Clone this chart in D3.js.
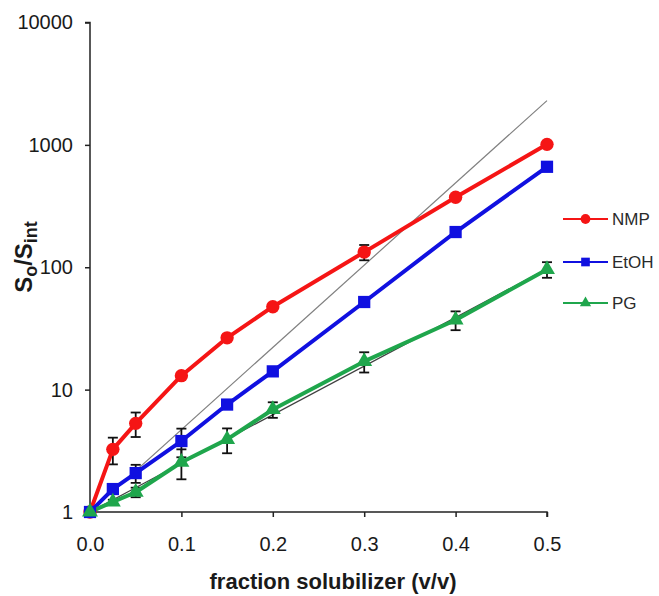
<!DOCTYPE html>
<html>
<head>
<meta charset="utf-8">
<script src="https://cdn.jsdelivr.net/npm/d3@7"></script>
<style>
  body { margin: 0; background: #fff; }
  svg { display: block; }
  text { font-family: "Liberation Sans", Arial, sans-serif; }
</style>
</head>
<body>
<svg id="chart" width="659" height="596"></svg>
<script>
// ---- data ----
const fractions = [0, 0.025, 0.05, 0.1, 0.15, 0.2, 0.3, 0.4, 0.5];
const nmpValues = [1, 3.25, 5.3, 13.0, 26.5, 47.6, 133, 373, 1010];
const nmpErrors = [0, 0.8, 1.2, 0.5, 1.0, 2.0, 19, 12, 30];
const etohValues = [1, 1.54, 2.08, 3.8, 7.55, 14.1, 52, 194, 662];
const etohErrors = [0, 0.1, 0.35, 1.0, 0.4, 0.6, 2.0, 8, 20];
const pgValues = [1, 1.21, 1.45, 2.55, 3.92, 6.88, 17.0, 37.1, 96];
const pgErrors = [0, 0.05, 0.13, 0.7, 0.9, 1.0, 3.2, 6.5, 14];
const seriesNames = ["NMP", "EtOH", "PG"];
const refSteepX = [0, 0.5];
const refSteepY = [1, 2300];
const refPgX = [0, 0.5];
const refPgY = [1, 97];
const xTicks = [0, 0.1, 0.2, 0.3, 0.4, 0.5];
const yTicks = [1, 10, 100, 1000, 10000];

const colors = { NMP: "#f51515", EtOH: "#1010e0", PG: "#1fa64c" };
const series = [
  { name: "NMP", values: nmpValues, errors: nmpErrors, shape: d3.symbolCircle, size: 140, lsize: 75 },
  { name: "EtOH", values: etohValues, errors: etohErrors, shape: d3.symbolSquare, size: 150, lsize: 75 },
  { name: "PG", values: pgValues, errors: pgErrors, shape: d3.symbolTriangle, size: 110, lsize: 55 }
];

const svg = d3.select("#chart");
const x = d3.scaleLinear().domain([0, 0.5]).range([90, 547]);
const y = d3.scaleLog().domain([1, 10000]).range([512, 22.5]);

// axes
const xAxis = d3.axisBottom(x).tickValues(xTicks).tickSize(5).tickPadding(20)
  .tickFormat(d3.format(".1f"));
const yAxis = d3.axisLeft(y).tickValues(yTicks).tickSize(5).tickPadding(12)
  .tickFormat(d3.format("d"));

const gx = svg.append("g").attr("transform", `translate(0,${y(1)})`).call(xAxis);
const gy = svg.append("g").attr("transform", `translate(${x(0)},0)`).call(yAxis);
[gx, gy].forEach(g => {
  g.select(".domain").attr("stroke", "#222").attr("stroke-width", 1.5);
  g.selectAll(".tick line").attr("stroke", "#222").attr("stroke-width", 1.5);
  g.selectAll(".tick text").attr("fill", "#1a1a1a").style("font-size", "20px")
    .style("font-family", "'Liberation Sans', Arial, sans-serif");
});
gy.select(".domain").attr("d", `M-5,${y(10000)}H0V${y(1)}`);
gx.select(".domain").attr("d", `M${x(0)},0H${x(0.5)}V5`);

// reference lines
const line = d3.line().x(d => x(d[0])).y(d => y(d[1]));
svg.append("path").attr("d", line(refSteepX.map((v, i) => [v, refSteepY[i]])))
  .attr("fill", "none").attr("stroke", "#808080").attr("stroke-width", 1.2);
svg.append("path").attr("d", line(refPgX.map((v, i) => [v, refPgY[i]])))
  .attr("fill", "none").attr("stroke", "#404040").attr("stroke-width", 1.2);

// error bars (drawn beneath markers)
series.forEach(s => {
  const g = svg.append("g").attr("stroke", "#111").attr("stroke-width", 1.8);
  fractions.forEach((f, i) => {
    const e = s.errors[i];
    if (!e) return;
    const cx = x(f);
    const y1 = y(s.values[i] + e), y2 = y(Math.max(s.values[i] - e, 1));
    g.append("line").attr("x1", cx).attr("x2", cx).attr("y1", y1).attr("y2", y2);
    g.append("line").attr("x1", cx - 5).attr("x2", cx + 5).attr("y1", y1).attr("y2", y1);
    g.append("line").attr("x1", cx - 5).attr("x2", cx + 5).attr("y1", y2).attr("y2", y2);
  });
});

// series lines
series.forEach(s => {
  svg.append("path").attr("d", line(fractions.map((f, i) => [f, s.values[i]])))
    .attr("fill", "none").attr("stroke", colors[s.name]).attr("stroke-width", 4)
    .attr("stroke-linejoin", "round");
});

// markers
series.forEach(s => {
  const sym = d3.symbol().type(s.shape).size(s.size);
  svg.append("g").selectAll("path").data(fractions.map((f, i) => [f, s.values[i]]))
    .join("path")
    .attr("d", sym)
    .attr("transform", d => `translate(${x(d[0])},${y(d[1])})`)
    .attr("fill", colors[s.name]);
});

// legend
const legendY = [219, 262, 303];
series.forEach((s, i) => {
  const g = svg.append("g").attr("transform", `translate(0,${legendY[i]})`);
  g.append("line").attr("x1", 563).attr("x2", 608).attr("y1", 0).attr("y2", 0)
    .attr("stroke", colors[s.name]).attr("stroke-width", 2);
  g.append("path").attr("d", d3.symbol().type(s.shape).size(s.lsize)())
    .attr("transform", "translate(585.5,0)").attr("fill", colors[s.name]);
  g.append("text").attr("x", 612).attr("y", 6).text(s.name)
    .style("font-size", "17px").attr("fill", "#2a2a2a");
});

// axis titles
svg.append("text").attr("x", 333).attr("y", 589).attr("text-anchor", "middle")
  .style("font-size", "22px").style("font-weight", "bold").attr("fill", "#1a1a1a")
  .text("fraction solubilizer (v/v)");

const yt = svg.append("text").attr("transform", "translate(32,257) rotate(-90)")
  .attr("text-anchor", "middle").style("font-weight", "bold").attr("fill", "#1a1a1a")
  .style("font-size", "24px");
yt.append("tspan").text("S");
yt.append("tspan").attr("dy", 5).style("font-size", "18px").text("o");
yt.append("tspan").attr("dy", -5).text("/S");
yt.append("tspan").attr("dy", 5).style("font-size", "18px").text("int");
</script>
</body>
</html>
